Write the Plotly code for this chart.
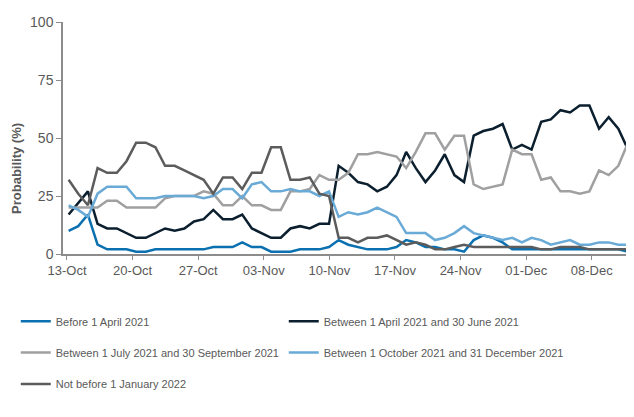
import plotly.graph_objects as go
import pandas as pd

# daily series, 13 Oct - 10 Dec 2020
dates = pd.date_range("2020-10-13", "2020-12-10", freq="D")

before_apr21 = [10, 12, 17, 4, 2, 2, 2, 1, 1, 2, 2, 2, 2, 2, 2, 3, 3, 3, 5, 3,
                3, 1, 1, 1, 2, 2, 2, 3, 6, 4, 3, 2, 2, 2, 3, 6, 5, 3, 3, 2,
                2, 1, 6, 8, 7, 5, 2, 2, 2, 2, 2, 2, 2, 2, 2, 2, 2, 2, 1]
apr_jun21 = [17, 22, 27, 13, 11, 11, 9, 7, 7, 9, 11, 10, 11, 14, 15, 19, 15, 15, 17, 11,
             9, 7, 7, 11, 12, 11, 13, 13, 38, 35, 31, 30, 27, 29, 34, 44, 37, 31, 36, 43,
             34, 31, 51, 53, 54, 56, 45, 47, 45, 57, 58, 62, 61, 64, 64, 54, 59, 54, 45]
jul_sep21 = [20, 20, 20, 20, 23, 23, 20, 20, 20, 20, 24, 25, 25, 25, 27, 26, 21, 21, 25, 21,
             21, 19, 19, 27, 27, 28, 34, 32, 32, 35, 43, 43, 44, 43, 42, 37, 44, 52, 52, 45,
             51, 51, 30, 28, 29, 30, 45, 43, 43, 32, 33, 27, 27, 26, 27, 36, 34, 38, 48]
oct_dec21 = [21, 19, 16, 26, 29, 29, 29, 24, 24, 24, 25, 25, 25, 25, 24, 25, 28, 28, 24, 30,
             31, 27, 27, 28, 27, 27, 25, 27, 16, 18, 17, 18, 20, 18, 16, 9, 9, 9, 6, 7,
             9, 12, 9, 8, 7, 6, 7, 5, 7, 6, 4, 5, 6, 4, 4, 5, 5, 4, 4]
not_before_jan22 = [32, 26, 21, 37, 35, 35, 40, 48, 48, 46, 38, 38, 36, 34, 32, 26, 33, 33, 28, 35,
                    35, 46, 46, 32, 32, 33, 26, 25, 7, 7, 5, 7, 7, 8, 6, 4, 5, 4, 2, 2,
                    3, 4, 3, 3, 3, 3, 3, 3, 3, 2, 2, 3, 3, 3, 2, 2, 2, 2, 2]

tick_dates = pd.date_range("2020-10-13", "2020-12-08", freq="7D")
tick_labels = [d.strftime("%d-%b") for d in tick_dates]
# source chart spaces its weekly labels slightly tighter than the daily points
tick_pos = [d - pd.Timedelta(days=0.17 + 0.198 * k) for k, d in enumerate(tick_dates)]

series = [
    ("Before 1 April 2021", before_apr21, "#0a70b0", "legend"),
    ("Between 1 April 2021 and 30 June 2021", apr_jun21, "#0b1f2e", "legend2"),
    ("Between 1 July 2021 and 30 September 2021", jul_sep21, "#a0a0a2", "legend3"),
    ("Between 1 October 2021 and 31 December 2021", oct_dec21, "#6aaad6", "legend4"),
    ("Not before 1 January 2022", not_before_jan22, "#5c5c5c", "legend5"),
]

fig = go.Figure()
for name, vals, color, leg in series:
    fig.add_trace(go.Scatter(x=dates, y=vals, mode='lines', name=name, legend=leg,
                             line=dict(color=color, width=2.5)))

# a legend per entry: two columns, three rows like the original
leg_style = dict(orientation='h', xanchor='left', yanchor='middle', bgcolor='rgba(0,0,0,0)',
                 font=dict(family='Liberation Sans, Arial', size=11, color='#595959'))
col1, col2 = -0.083, 0.388
row1, row2, row3 = -0.29, -0.425, -0.56

# page body adds an 8px offset, so the figure is drawn 8px smaller
fig.update_layout(
    width=626, height=409,
    margin=dict(l=55, r=2, t=14, b=163),
    plot_bgcolor='white', paper_bgcolor='white',
    font=dict(family='Liberation Sans, Arial', color='#595959'),
    showlegend=True,
    legend=dict(leg_style, x=col1, y=row1),
    legend2=dict(leg_style, x=col2, y=row1),
    legend3=dict(leg_style, x=col1, y=row2),
    legend4=dict(leg_style, x=col2, y=row2),
    legend5=dict(leg_style, x=col1, y=row3),
    xaxis=dict(range=["2020-10-12 10:00", "2020-12-10 10:00"], tickvals=tick_pos, ticktext=tick_labels,
               showgrid=False, showline=True, linecolor='#8c8c8c', linewidth=1.5,
               ticks='outside', ticklen=4, tickcolor='#8c8c8c',
               tickfont=dict(size=13, color='#595959'), zeroline=False),
    yaxis=dict(range=[0, 100], tickvals=[0, 25, 50, 75, 100], showgrid=False,
               showline=True, linecolor='#8c8c8c', linewidth=1.5,
               ticks='outside', ticklen=5, tickcolor='#8c8c8c',
               tickfont=dict(size=14, color='#595959'), zeroline=False),
)
fig.add_annotation(text='<b>Probability (%)</b>', textangle=-90, xref='paper', yref='paper',
                   x=-0.083, y=0.37, xanchor='center', yanchor='middle', showarrow=False,
                   font=dict(size=13, color='#595959'))

fig.write_html("out.html")
